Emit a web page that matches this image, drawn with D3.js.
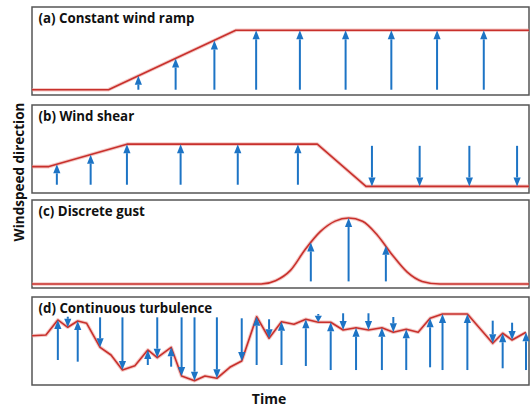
<!DOCTYPE html>
<html>
<head>
<meta charset="utf-8">
<script src="https://cdn.jsdelivr.net/npm/d3@7/dist/d3.min.js"></script>
<style>
  body { margin: 0; background: #fff; }
  svg text { font-family: 'Open Sans', Lato, sans-serif; font-weight: bold; fill: #111; }
</style>
</head>
<body>
<script>
// Panel titles and axis labels
var TITLES = [
  '(a) Constant wind ramp',
  '(b) Wind shear',
  '(c) Discrete gust',
  '(d) Continuous turbulence'
];
var X_LABEL = 'Time';
var Y_LABEL = 'Windspeed direction';

// (a) ramp: time 0-100, windspeed 0-100 (share of panel height)
var rampLineT = [0, 15.4, 41, 100];
var rampLineV = [6, 6, 73.5, 73.5];
var rampArrowT = [21.4, 28.9, 36.7, 45.1, 53.9, 63.1, 72.3, 81.5, 90.9];
var rampArrowFrom = [6, 6, 6, 6, 6, 6, 6, 6, 6];
var rampArrowTo = [22, 41.5, 62, 73.5, 73.5, 73.5, 73.5, 73.5, 73.5];

// (b) shear
var shearLineT = [0, 3.4, 19.1, 57.4, 67.2, 100];
var shearLineV = [30, 30, 55.5, 55.5, 7.5, 7.5];
var shearArrowT = [5.0, 11.8, 19.1, 29.9, 41.4, 53.5, 68.4, 78.0, 88.0, 97.6];
var shearArrowFrom = [9.4, 9.4, 9.4, 9.4, 9.4, 9.4, 53.6, 53.6, 53.6, 53.6];
var shearArrowTo = [32.6, 43.6, 55.5, 55.5, 55.5, 55.5, 7.5, 7.5, 7.5, 7.5];

// (c) gust
var gustLineT = [0, 46.1, 49, 52, 55, 58, 61, 63.7, 66.5, 69.5, 72.5, 75.5, 78.5, 82.1, 100];
var gustLineV = [4.5, 4.5, 8.3, 20, 44, 64, 76, 79.5, 75.8, 60, 37.5, 18, 7.5, 4.5, 4.5];
var gustArrowT = [56.1, 63.7, 71.2];
var gustArrowFrom = [7.5, 7.5, 7.5];
var gustArrowTo = [51.8, 79.5, 48];

// (d) turbulence
var turbLineT = [0, 2.8, 5.2, 7.2, 9.2, 11.0, 13.7, 15.9, 18.2, 20.7, 23.3, 25.2, 28.0, 30.1,
  32.7, 34.8, 37.2, 39.8, 42.2, 45.2, 47.7, 50.2, 52.7, 55.1, 57.6, 60.1, 62.6, 65.2, 67.7,
  70.4, 72.7, 75.3, 77.7, 80.1, 82.6, 87.6, 92.7, 94.7, 96.6, 99.4];
var turbLineV = [56.0, 56.8, 73.9, 65.6, 72.7, 70.1, 42.8, 34.1, 17.0, 21.9, 39.8, 31.0, 42.8, 10.2,
  4.9, 10.2, 7.6, 20.1, 27.3, 77.6, 53.1, 71.9, 69.0, 74.7, 71.3, 71.3, 62.5, 65.1, 62.5,
  65.1, 59.9, 63.3, 59.9, 75.8, 80.7, 80.7, 47.4, 58.8, 51.1, 59.9];
var turbArrowT = [5.2, 7.2, 9.2, 13.7, 18.2, 23.3, 25.2, 28.0, 30.1, 32.7, 37.2, 42.2, 45.2, 47.7,
  50.2, 55.1, 57.6, 60.1, 62.6, 65.2, 67.7, 70.4, 72.7, 75.3, 80.1, 82.6, 87.6, 92.7, 94.7, 96.6, 99.4];
var turbArrowFrom = [28.4, 77.6, 26.5, 76.9, 76.9, 22.7, 76.9, 20.8, 76.9, 76.9, 76.9, 75.8, 22.7, 74.7,
  22.7, 21.6, 80.7, 17.0, 81.5, 17.0, 81.5, 17.0, 77.3, 17.0, 20.1, 17.0, 17.0, 73.1, 19.0, 70.8, 17.0];
var turbArrowTo = [73.9, 65.6, 72.7, 42.8, 17.0, 39.8, 31.0, 42.8, 10.2, 4.9, 7.6, 27.3, 77.6, 53.1,
  71.9, 74.7, 71.3, 71.3, 62.5, 65.1, 62.5, 65.1, 59.9, 63.3, 75.8, 80.7, 80.7, 47.4, 58.8, 51.1, 59.9];

// Build panel list from the arrays above
var panels = [
  { title: TITLES[0], lt: rampLineT, lv: rampLineV, at: rampArrowT, af: rampArrowFrom, ato: rampArrowTo, curve: d3.curveLinear },
  { title: TITLES[1], lt: shearLineT, lv: shearLineV, at: shearArrowT, af: shearArrowFrom, ato: shearArrowTo, curve: d3.curveLinear },
  { title: TITLES[2], lt: gustLineT, lv: gustLineV, at: gustArrowT, af: gustArrowFrom, ato: gustArrowTo, curve: d3.curveMonotoneX },
  { title: TITLES[3], lt: turbLineT, lv: turbLineV, at: turbArrowT, af: turbArrowFrom, ato: turbArrowTo, curve: d3.curveLinear }
];

var width = 531;
var height = 410;
var margin = { left: 32, right: 2 };
var panelTops = [7, 105, 200, 297];
var panelHeight = 88;

var RED = '#c8302c';
var BLUE = '#1d74c5';
var headLen = 9;
var headHalf = 3.6;

var svg = d3.select('body')
  .append('svg')
  .attr('width', width)
  .attr('height', height);

var x = d3.scaleLinear()
  .domain([0, 100])
  .range([margin.left, width - margin.right]);

panels.forEach(function (p, i) {
  var top = panelTops[i];
  var y = d3.scaleLinear()
    .domain([0, 100])
    .range([top + panelHeight, top]);

  var g = svg.append('g')
    .attr('class', 'panel');

  // Panel frame
  g.append('rect')
    .attr('x', x(0))
    .attr('y', top)
    .attr('width', x(100) - x(0))
    .attr('height', panelHeight)
    .attr('fill', '#fff')
    .attr('stroke', '#555')
    .attr('stroke-width', 1.5);

  var pts = p.lt.map(function (t, k) { return [t, p.lv[k]]; });
  var line = d3.line()
    .x(function (d) { return x(d[0]); })
    .y(function (d) { return y(d[1]); })
    .curve(p.curve);

  // Soft halo under the red line
  g.append('path')
    .attr('d', line(pts))
    .attr('fill', 'none')
    .attr('stroke', '#eb9a96')
    .attr('stroke-opacity', 0.55)
    .attr('stroke-width', 3.6)
    .attr('stroke-linejoin', 'round');

  g.append('path')
    .attr('d', line(pts))
    .attr('fill', 'none')
    .attr('stroke', RED)
    .attr('stroke-width', 1.6)
    .attr('stroke-linejoin', 'round');

  // Arrows: shaft plus filled head ending on the curve
  p.at.forEach(function (t, k) {
    var ax = x(t);
    var y0 = y(p.af[k]);
    var y1 = y(p.ato[k]);
    var dir = y1 < y0 ? -1 : 1;
    var hl = Math.min(headLen, Math.abs(y1 - y0) * 0.8);
    var yb = y1 - dir * hl;

    g.append('line')
      .attr('x1', ax)
      .attr('x2', ax)
      .attr('y1', y0)
      .attr('y2', yb)
      .attr('stroke', BLUE)
      .attr('stroke-width', 2);

    g.append('path')
      .attr('d', 'M' + ax + ',' + y1 + 'L' + (ax - headHalf) + ',' + yb + 'L' + (ax + headHalf) + ',' + yb + 'Z')
      .attr('fill', BLUE);
  });

  g.append('text')
    .attr('x', 38.5)
    .attr('y', top + 15.5)
    .attr('font-size', 13.3)
    .text(p.title);
});

// Axis labels
svg.append('text')
  .attr('x', 269)
  .attr('y', 404)
  .attr('text-anchor', 'middle')
  .attr('font-size', 14)
  .text(X_LABEL);

svg.append('text')
  .attr('transform', 'translate(24,172) rotate(-90)')
  .attr('text-anchor', 'middle')
  .attr('font-size', 13.5)
  .text(Y_LABEL);
</script>
</body>
</html>
